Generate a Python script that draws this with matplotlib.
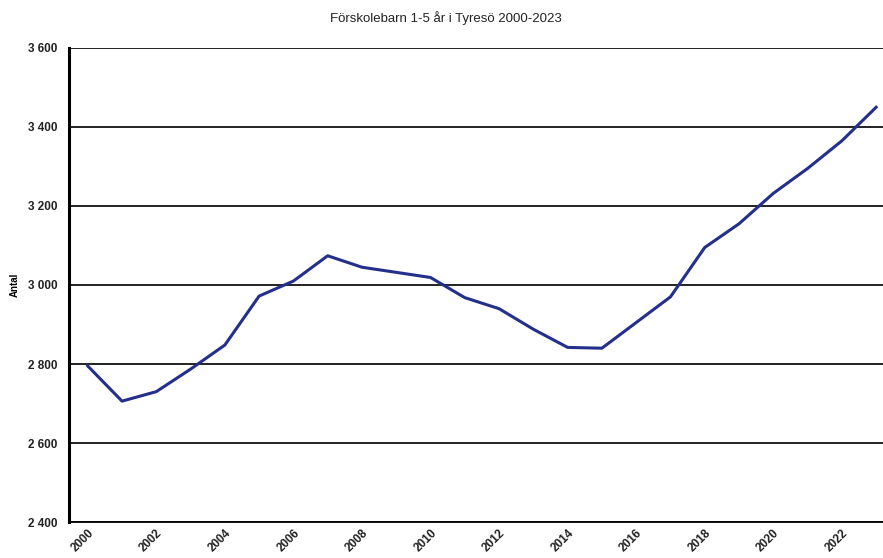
import matplotlib
matplotlib.use("Agg")
import matplotlib.pyplot as plt
from matplotlib.ticker import FuncFormatter

plt.rcParams['font.family'] = ['Liberation Sans', 'DejaVu Sans']

years = list(range(2000, 2024))
antal = [2795, 2706, 2730, 2787, 2848, 2972, 3010, 3074, 3045, 3032, 3019,
         2968, 2940, 2888, 2842, 2840, 2905, 2970, 3095, 3155, 3232, 3295,
         3365, 3450]
x_ticks = list(range(2000, 2023, 2))
y_ticks = list(range(2400, 3601, 200))

fig = plt.figure(figsize=(8.83, 5.58), dpi=100)
ax = fig.add_axes([0.078, 0.0645, 0.922, 0.8495])

ax.plot(years, antal, color='#22308c', lw=2.2)

ax.set_xlim(1999.45, 2023.2)
ax.set_ylim(2400, 3600)
ax.set_xticks(x_ticks)
ax.set_yticks(y_ticks)
ax.yaxis.set_major_formatter(FuncFormatter(lambda v, p: f"{int(v):,}".replace(",", " ")))
ax.grid(axis='y', color='#111111', lw=1.3)
ax.set_axisbelow(True)

ax.spines['right'].set_visible(False)
ax.spines['top'].set_visible(False)
ax.spines['left'].set_linewidth(2.2)
ax.spines['bottom'].set_linewidth(1.3)

ax.tick_params(axis='both', length=0, labelsize=8.5)
ax.tick_params(axis='y', pad=8)
for lab in ax.get_yticklabels():
    lab.set_fontweight('bold')
    lab.set_color('#222222')
for lab in ax.get_xticklabels():
    lab.set_rotation(45)
    lab.set_ha('right')
    lab.set_rotation_mode('anchor')
    lab.set_fontweight('bold')
    lab.set_color('#222222')

ax.set_ylabel('Antal', fontsize=7, fontweight='bold', labelpad=6)
fig.text(0.505, 0.968, 'Förskolebarn 1-5 år i Tyresö 2000-2023', ha='center',
         va='center', fontsize=9.5, color='#222222')

fig.savefig('out.png', dpi=100)
